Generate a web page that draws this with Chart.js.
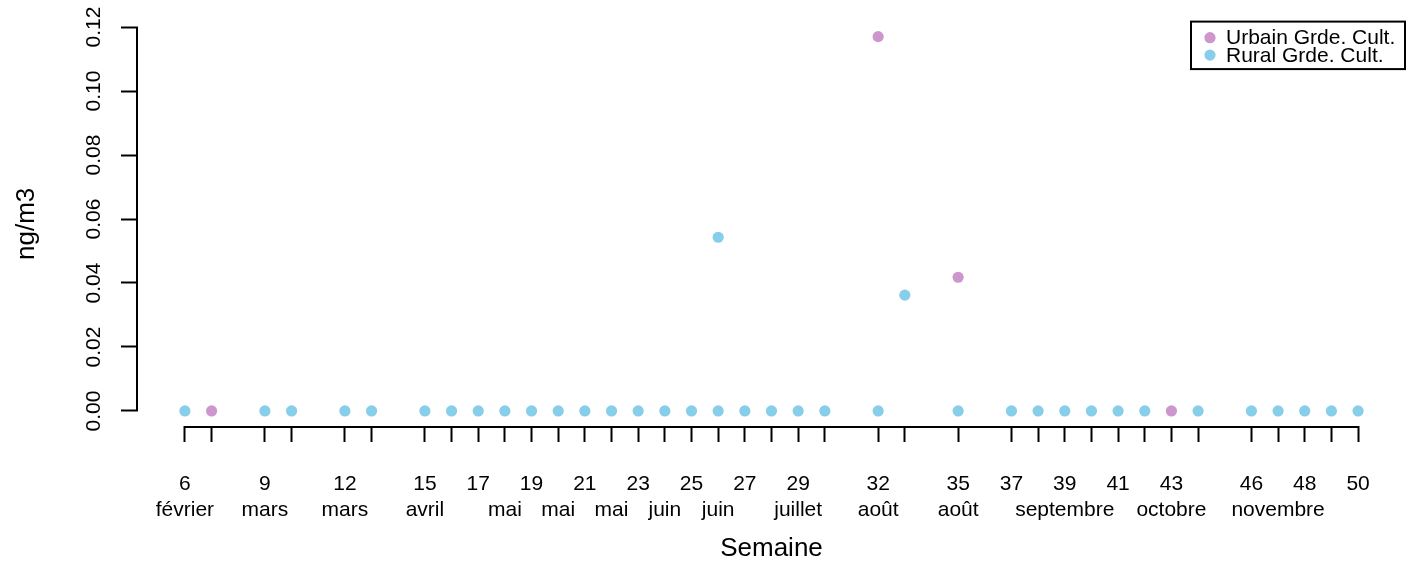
<!DOCTYPE html>
<html>
<head>
<meta charset="utf-8">
<script src="https://cdn.jsdelivr.net/npm/chart.js@4.4.0/dist/chart.umd.min.js"></script>
<style>
  html, body { margin: 0; padding: 0; background: #fff; }
</style>
</head>
<body>
<canvas id="semaineChart" width="1411" height="566"></canvas>
<script>
// semaines avec un prélèvement (graduations de l'axe x)
var weekTicks = [6, 7, 9, 10, 12, 13, 15, 16, 17, 18, 19, 20, 21, 22, 23, 24, 25, 26, 27, 28, 29, 30,
                 32, 33, 35, 37, 38, 39, 40, 41, 42, 43, 44, 46, 47, 48, 49, 50];
var weekNumbers = [6, 9, 12, 15, 17, 19, 21, 23, 25, 27, 29, 32, 35, 37, 39, 41, 43, 46, 48, 50];
var monthWeeks = [6, 9, 12, 15, 18, 20, 22, 24, 26, 29, 32, 35, 39, 43, 47];
var monthNames = ['février', 'mars', 'mars', 'avril', 'mai', 'mai', 'mai', 'juin', 'juin', 'juillet',
                  'août', 'août', 'septembre', 'octobre', 'novembre'];
var yTicks = [0, 0.02, 0.04, 0.06, 0.08, 0.10, 0.12];

var urbainWeeks = [7, 32, 35, 43];
var urbainValues = [0, 0.117, 0.0418, 0];

var ruralWeeks = [6, 9, 10, 12, 13, 15, 16, 17, 18, 19, 20, 21, 22, 23, 24, 25, 26, 26, 27, 28, 29, 30,
                  32, 33, 35, 37, 38, 39, 40, 41, 42, 44, 46, 47, 48, 49, 50];
var ruralValues = [0, 0, 0, 0, 0, 0, 0, 0, 0, 0, 0, 0, 0, 0, 0, 0, 0.0543, 0, 0, 0, 0, 0,
                   0, 0.0362, 0, 0, 0, 0, 0, 0, 0, 0, 0, 0, 0, 0, 0];

var fontFamily = '"Liberation Sans", Arial, Helvetica, sans-serif';

function toPoints(xs, ys) {
  return xs.map(function (x, i) { return { x: x, y: ys[i] }; });
}

// axes façon R : traits limités aux graduations, étiquettes y verticales, légende encadrée
var rStyle = {
  id: 'rStyle',
  afterDraw: function (chart) {
    var ctx = chart.ctx;
    var xs = chart.scales.x;
    var ys = chart.scales.y;
    var area = chart.chartArea;
    ctx.save();
    ctx.strokeStyle = '#000';
    ctx.lineWidth = 2;
    ctx.beginPath();
    ctx.moveTo(area.left - 1, ys.getPixelForValue(yTicks[0]));
    ctx.lineTo(area.left - 1, ys.getPixelForValue(yTicks[yTicks.length - 1]));
    ctx.moveTo(xs.getPixelForValue(weekTicks[0]), area.bottom + 1);
    ctx.lineTo(xs.getPixelForValue(weekTicks[weekTicks.length - 1]), area.bottom + 1);
    ctx.stroke();

    ctx.fillStyle = '#000';
    ctx.font = '21px ' + fontFamily;
    ctx.textAlign = 'center';
    ctx.textBaseline = 'alphabetic';
    yTicks.forEach(function (v) {
      ctx.save();
      ctx.translate(area.left - 38, ys.getPixelForValue(v));
      ctx.rotate(-Math.PI / 2);
      ctx.fillText(v.toFixed(2), 0, 0);
      ctx.restore();
    });

    // légende
    var bw = 214, bh = 47.5;
    var bx = area.right - bw, by = area.top;
    ctx.lineWidth = 2;
    ctx.strokeRect(bx, by, bw, bh);
    ctx.textAlign = 'left';
    chart.data.datasets.forEach(function (ds, i) {
      ctx.fillStyle = ds.backgroundColor;
      ctx.beginPath();
      ctx.arc(bx + 19, by + 16.1 + i * 17.4, 5.6, 0, Math.PI * 2);
      ctx.fill();
      ctx.fillStyle = '#000';
      ctx.fillText(ds.label, bx + 35, by + 22.7 + i * 17.4);
    });
    ctx.restore();
  }
};

new Chart(document.getElementById('semaineChart'), {
  type: 'scatter',
  data: {
    datasets: [
      {
        label: 'Urbain Grde. Cult.',
        data: toPoints(urbainWeeks, urbainValues),
        backgroundColor: '#CD96CD',
        borderWidth: 0,
        pointRadius: 5.6,
        order: 2
      },
      {
        label: 'Rural Grde. Cult.',
        data: toPoints(ruralWeeks, ruralValues),
        backgroundColor: '#87CEEB',
        borderWidth: 0,
        pointRadius: 5.6,
        order: 1
      }
    ]
  },
  options: {
    responsive: false,
    animation: false,
    layout: { padding: { top: 21.6, right: 6, left: 0, bottom: 0 } },
    plugins: {
      legend: { display: false },
      tooltip: { enabled: false }
    },
    scales: {
      x: {
        type: 'linear',
        min: 4.24,
        max: 51.76,
        afterBuildTicks: function (scale) {
          scale.ticks = weekTicks.map(function (v) { return { value: v }; });
        },
        afterFit: function (scale) { scale.height = 140; },
        border: { display: false },
        grid: {
          drawOnChartArea: false,
          drawTicks: true,
          tickLength: 16,
          tickWidth: 2,
          tickColor: '#000'
        },
        ticks: {
          autoSkip: false,
          maxRotation: 0,
          minRotation: 0,
          padding: 30,
          color: '#000',
          font: { family: fontFamily, size: 21, lineHeight: 1.2 },
          callback: function (value) {
            var num = weekNumbers.indexOf(value) >= 0 ? String(value) : '';
            var m = monthWeeks.indexOf(value);
            return [num, m >= 0 ? monthNames[m] : ''];
          }
        },
        title: {
          display: true,
          text: 'Semaine',
          color: '#000',
          font: { family: fontFamily, size: 26 },
          padding: { top: 0, bottom: 2 }
        }
      },
      y: {
        min: -0.0047,
        max: 0.1217,
        afterBuildTicks: function (scale) {
          scale.ticks = yTicks.map(function (v) { return { value: v }; });
        },
        afterFit: function (scale) { scale.width = 138; },
        border: { display: false },
        grid: {
          drawOnChartArea: false,
          drawTicks: true,
          tickLength: 17,
          tickWidth: 2,
          tickColor: '#000'
        },
        ticks: { display: false },
        title: {
          display: true,
          text: 'ng/m3',
          color: '#000',
          font: { family: fontFamily, size: 26 },
          padding: { top: 11, bottom: 0 }
        }
      }
    }
  },
  plugins: [rStyle]
});
</script>
</body>
</html>
